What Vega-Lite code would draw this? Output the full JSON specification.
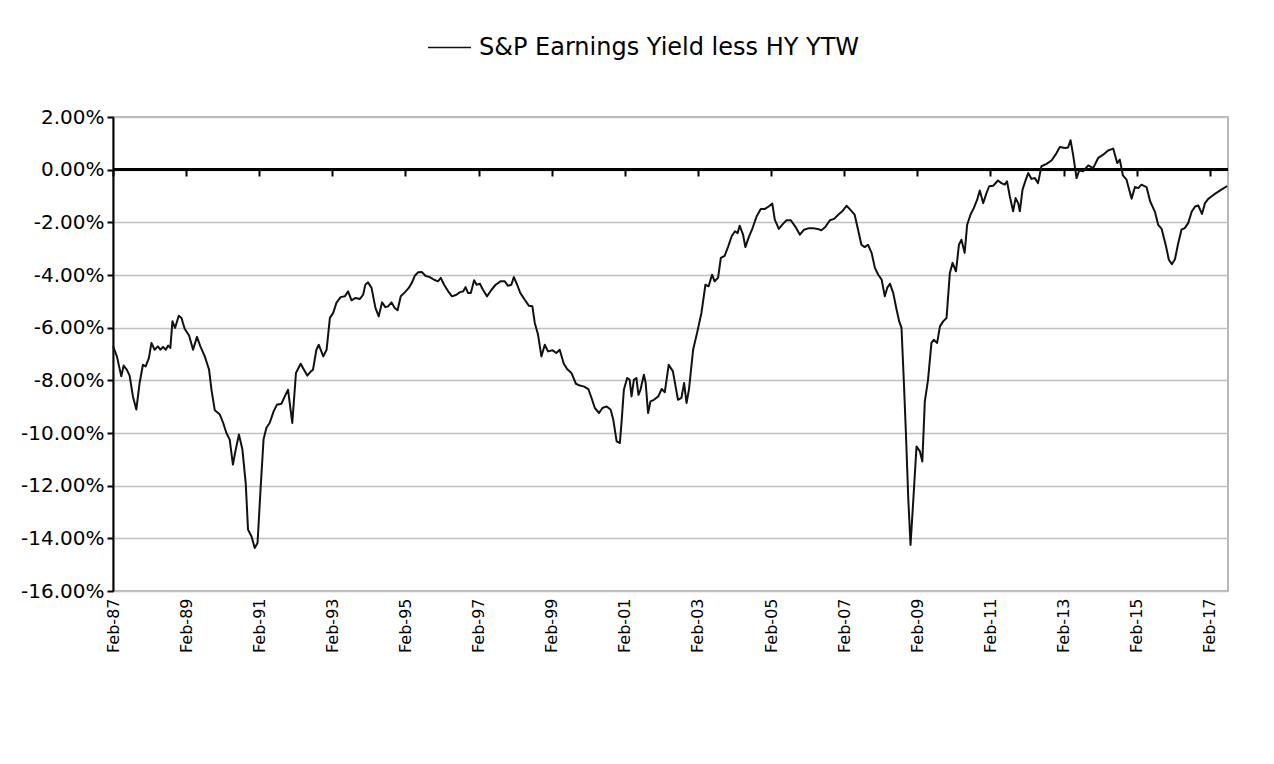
{
  "$schema": "https://vega.github.io/schema/vega-lite/v6.json",
  "width": 1115,
  "height": 474,
  "autosize": {"type": "none"},
  "padding": {"left": 113, "top": 117, "right": 46, "bottom": 173},
  "background": "white",
  "config": {
    "view": {"stroke": "#a0a0a0", "strokeWidth": 1.5},
    "font": "DejaVu Sans",
    "locale": {"number": {"decimal": ".", "thousands": ",", "grouping": [3], "currency": ["$", ""], "minus": "-"}}
  },
  "data": {"values": [
    {"date": "1987-02-01", "v": -0.0670},
    {"date": "1987-03-12", "v": -0.0709},
    {"date": "1987-04-25", "v": -0.0785},
    {"date": "1987-05-18", "v": -0.0744},
    {"date": "1987-06-20", "v": -0.0760},
    {"date": "1987-07-17", "v": -0.0782},
    {"date": "1987-08-19", "v": -0.0861},
    {"date": "1987-09-22", "v": -0.0911},
    {"date": "1987-10-25", "v": -0.0810},
    {"date": "1987-11-27", "v": -0.0741},
    {"date": "1987-12-24", "v": -0.0747},
    {"date": "1988-01-26", "v": -0.0715},
    {"date": "1988-02-20", "v": -0.0658},
    {"date": "1988-03-23", "v": -0.0684},
    {"date": "1988-04-25", "v": -0.0671},
    {"date": "1988-05-19", "v": -0.0684},
    {"date": "1988-06-15", "v": -0.0673},
    {"date": "1988-07-12", "v": -0.0684},
    {"date": "1988-08-05", "v": -0.0668},
    {"date": "1988-08-27", "v": -0.0677},
    {"date": "1988-09-17", "v": -0.0576},
    {"date": "1988-10-13", "v": -0.0601},
    {"date": "1988-11-19", "v": -0.0555},
    {"date": "1988-12-16", "v": -0.0563},
    {"date": "1989-01-18", "v": -0.0605},
    {"date": "1989-03-02", "v": -0.0630},
    {"date": "1989-04-11", "v": -0.0684},
    {"date": "1989-05-20", "v": -0.0635},
    {"date": "1989-06-23", "v": -0.0671},
    {"date": "1989-08-06", "v": -0.0709},
    {"date": "1989-09-18", "v": -0.0760},
    {"date": "1989-10-12", "v": -0.0836},
    {"date": "1989-11-14", "v": -0.0914},
    {"date": "1990-01-04", "v": -0.0930},
    {"date": "1990-02-06", "v": -0.0962},
    {"date": "1990-03-10", "v": -0.1000},
    {"date": "1990-04-12", "v": -0.1025},
    {"date": "1990-05-14", "v": -0.1120},
    {"date": "1990-06-11", "v": -0.1063},
    {"date": "1990-07-13", "v": -0.1006},
    {"date": "1990-08-17", "v": -0.1063},
    {"date": "1990-09-19", "v": -0.1190},
    {"date": "1990-10-12", "v": -0.1367},
    {"date": "1990-11-16", "v": -0.1393},
    {"date": "1990-12-18", "v": -0.1437},
    {"date": "1991-01-15", "v": -0.1418},
    {"date": "1991-02-14", "v": -0.1215},
    {"date": "1991-03-16", "v": -0.1025},
    {"date": "1991-04-13", "v": -0.0981},
    {"date": "1991-05-16", "v": -0.0962},
    {"date": "1991-06-25", "v": -0.0918},
    {"date": "1991-07-27", "v": -0.0893},
    {"date": "1991-09-11", "v": -0.0889},
    {"date": "1991-10-14", "v": -0.0861},
    {"date": "1991-11-16", "v": -0.0836},
    {"date": "1991-12-28", "v": -0.0962},
    {"date": "1992-02-03", "v": -0.0772},
    {"date": "1992-03-21", "v": -0.0737},
    {"date": "1992-04-23", "v": -0.0760},
    {"date": "1992-05-26", "v": -0.0782},
    {"date": "1992-07-01", "v": -0.0766},
    {"date": "1992-07-22", "v": -0.0760},
    {"date": "1992-08-25", "v": -0.0684},
    {"date": "1992-09-18", "v": -0.0665},
    {"date": "1992-11-02", "v": -0.0709},
    {"date": "1992-12-05", "v": -0.0684},
    {"date": "1993-01-07", "v": -0.0563},
    {"date": "1993-02-09", "v": -0.0544},
    {"date": "1993-03-13", "v": -0.0506},
    {"date": "1993-04-24", "v": -0.0484},
    {"date": "1993-06-05", "v": -0.0481},
    {"date": "1993-07-08", "v": -0.0462},
    {"date": "1993-08-11", "v": -0.0496},
    {"date": "1993-09-20", "v": -0.0487},
    {"date": "1993-11-03", "v": -0.0491},
    {"date": "1993-12-05", "v": -0.0475},
    {"date": "1993-12-27", "v": -0.0437},
    {"date": "1994-01-23", "v": -0.0428},
    {"date": "1994-02-27", "v": -0.0449},
    {"date": "1994-04-07", "v": -0.0525},
    {"date": "1994-05-10", "v": -0.0557},
    {"date": "1994-06-12", "v": -0.0504},
    {"date": "1994-07-15", "v": -0.0522},
    {"date": "1994-08-11", "v": -0.0519},
    {"date": "1994-09-15", "v": -0.0504},
    {"date": "1994-10-17", "v": -0.0525},
    {"date": "1994-11-14", "v": -0.0534},
    {"date": "1994-12-16", "v": -0.0481},
    {"date": "1995-01-25", "v": -0.0466},
    {"date": "1995-03-06", "v": -0.0449},
    {"date": "1995-04-08", "v": -0.0428},
    {"date": "1995-05-05", "v": -0.0403},
    {"date": "1995-06-07", "v": -0.0390},
    {"date": "1995-07-16", "v": -0.0389},
    {"date": "1995-08-19", "v": -0.0403},
    {"date": "1995-10-02", "v": -0.0408},
    {"date": "1995-11-14", "v": -0.0418},
    {"date": "1995-12-23", "v": -0.0424},
    {"date": "1996-01-20", "v": -0.0411},
    {"date": "1996-02-22", "v": -0.0437},
    {"date": "1996-04-03", "v": -0.0462},
    {"date": "1996-05-11", "v": -0.0481},
    {"date": "1996-06-24", "v": -0.0475},
    {"date": "1996-07-26", "v": -0.0466},
    {"date": "1996-09-01", "v": -0.0462},
    {"date": "1996-09-23", "v": -0.0446},
    {"date": "1996-10-18", "v": -0.0468},
    {"date": "1996-11-15", "v": -0.0468},
    {"date": "1996-12-18", "v": -0.0420},
    {"date": "1997-01-12", "v": -0.0437},
    {"date": "1997-02-14", "v": -0.0433},
    {"date": "1997-03-16", "v": -0.0456},
    {"date": "1997-04-25", "v": -0.0481},
    {"date": "1997-06-10", "v": -0.0456},
    {"date": "1997-07-21", "v": -0.0437},
    {"date": "1997-09-08", "v": -0.0424},
    {"date": "1997-10-20", "v": -0.0424},
    {"date": "1997-11-22", "v": -0.0441},
    {"date": "1997-12-25", "v": -0.0437},
    {"date": "1998-01-19", "v": -0.0408},
    {"date": "1998-02-21", "v": -0.0437},
    {"date": "1998-03-24", "v": -0.0468},
    {"date": "1998-05-08", "v": -0.0494},
    {"date": "1998-06-19", "v": -0.0517},
    {"date": "1998-07-23", "v": -0.0519},
    {"date": "1998-08-16", "v": -0.0582},
    {"date": "1998-09-18", "v": -0.0627},
    {"date": "1998-10-21", "v": -0.0709},
    {"date": "1998-11-24", "v": -0.0665},
    {"date": "1998-12-26", "v": -0.0690},
    {"date": "1999-02-10", "v": -0.0686},
    {"date": "1999-03-19", "v": -0.0696},
    {"date": "1999-04-22", "v": -0.0684},
    {"date": "1999-06-02", "v": -0.0737},
    {"date": "1999-07-05", "v": -0.0757},
    {"date": "1999-08-17", "v": -0.0772},
    {"date": "1999-10-01", "v": -0.0813},
    {"date": "1999-11-09", "v": -0.0820},
    {"date": "1999-12-18", "v": -0.0823},
    {"date": "2000-02-02", "v": -0.0833},
    {"date": "2000-03-05", "v": -0.0867},
    {"date": "2000-04-07", "v": -0.0905},
    {"date": "2000-05-19", "v": -0.0924},
    {"date": "2000-06-22", "v": -0.0905},
    {"date": "2000-08-03", "v": -0.0899},
    {"date": "2000-09-11", "v": -0.0911},
    {"date": "2000-10-08", "v": -0.0949},
    {"date": "2000-11-11", "v": -0.1032},
    {"date": "2000-12-13", "v": -0.1038},
    {"date": "2001-01-01", "v": -0.0949},
    {"date": "2001-01-22", "v": -0.0836},
    {"date": "2001-02-24", "v": -0.0791},
    {"date": "2001-03-21", "v": -0.0798},
    {"date": "2001-04-09", "v": -0.0861},
    {"date": "2001-05-02", "v": -0.0798},
    {"date": "2001-05-27", "v": -0.0791},
    {"date": "2001-06-17", "v": -0.0855},
    {"date": "2001-07-07", "v": -0.0836},
    {"date": "2001-08-10", "v": -0.0779},
    {"date": "2001-08-28", "v": -0.0810},
    {"date": "2001-09-21", "v": -0.0924},
    {"date": "2001-10-15", "v": -0.0880},
    {"date": "2001-11-18", "v": -0.0874},
    {"date": "2002-01-01", "v": -0.0861},
    {"date": "2002-02-04", "v": -0.0833},
    {"date": "2002-03-07", "v": -0.0845},
    {"date": "2002-04-15", "v": -0.0741},
    {"date": "2002-05-27", "v": -0.0766},
    {"date": "2002-07-17", "v": -0.0874},
    {"date": "2002-08-20", "v": -0.0867},
    {"date": "2002-09-16", "v": -0.0810},
    {"date": "2002-10-10", "v": -0.0886},
    {"date": "2002-11-03", "v": -0.0836},
    {"date": "2002-12-15", "v": -0.0684},
    {"date": "2003-01-27", "v": -0.0614},
    {"date": "2003-03-08", "v": -0.0544},
    {"date": "2003-04-17", "v": -0.0437},
    {"date": "2003-05-19", "v": -0.0443},
    {"date": "2003-06-22", "v": -0.0399},
    {"date": "2003-07-18", "v": -0.0424},
    {"date": "2003-08-21", "v": -0.0411},
    {"date": "2003-09-18", "v": -0.0335},
    {"date": "2003-10-26", "v": -0.0327},
    {"date": "2003-12-01", "v": -0.0291},
    {"date": "2004-01-04", "v": -0.0253},
    {"date": "2004-02-06", "v": -0.0234},
    {"date": "2004-03-03", "v": -0.0241},
    {"date": "2004-03-24", "v": -0.0213},
    {"date": "2004-04-27", "v": -0.0247},
    {"date": "2004-05-20", "v": -0.0294},
    {"date": "2004-06-23", "v": -0.0256},
    {"date": "2004-07-25", "v": -0.0228},
    {"date": "2004-09-10", "v": -0.0177},
    {"date": "2004-10-21", "v": -0.0149},
    {"date": "2004-12-02", "v": -0.0149},
    {"date": "2005-01-11", "v": -0.0139},
    {"date": "2005-02-13", "v": -0.0129},
    {"date": "2005-03-10", "v": -0.0190},
    {"date": "2005-04-19", "v": -0.0225},
    {"date": "2005-06-02", "v": -0.0205},
    {"date": "2005-07-06", "v": -0.0192},
    {"date": "2005-08-17", "v": -0.0192},
    {"date": "2005-10-04", "v": -0.0218},
    {"date": "2005-11-16", "v": -0.0247},
    {"date": "2005-12-27", "v": -0.0228},
    {"date": "2006-02-15", "v": -0.0222},
    {"date": "2006-03-26", "v": -0.0222},
    {"date": "2006-05-10", "v": -0.0225},
    {"date": "2006-06-19", "v": -0.0230},
    {"date": "2006-07-28", "v": -0.0218},
    {"date": "2006-09-11", "v": -0.0192},
    {"date": "2006-10-23", "v": -0.0187},
    {"date": "2006-12-04", "v": -0.0171},
    {"date": "2007-01-13", "v": -0.0158},
    {"date": "2007-02-25", "v": -0.0137},
    {"date": "2007-03-27", "v": -0.0149},
    {"date": "2007-05-17", "v": -0.0171},
    {"date": "2007-06-20", "v": -0.0228},
    {"date": "2007-07-23", "v": -0.0285},
    {"date": "2007-08-25", "v": -0.0294},
    {"date": "2007-09-27", "v": -0.0285},
    {"date": "2007-11-03", "v": -0.0317},
    {"date": "2007-12-05", "v": -0.0373},
    {"date": "2008-01-08", "v": -0.0399},
    {"date": "2008-02-11", "v": -0.0418},
    {"date": "2008-03-13", "v": -0.0481},
    {"date": "2008-04-06", "v": -0.0449},
    {"date": "2008-05-03", "v": -0.0433},
    {"date": "2008-06-05", "v": -0.0468},
    {"date": "2008-07-09", "v": -0.0532},
    {"date": "2008-08-04", "v": -0.0576},
    {"date": "2008-08-27", "v": -0.0601},
    {"date": "2008-09-20", "v": -0.0810},
    {"date": "2008-10-10", "v": -0.1000},
    {"date": "2008-11-03", "v": -0.1253},
    {"date": "2008-11-25", "v": -0.1425},
    {"date": "2008-12-21", "v": -0.1266},
    {"date": "2009-01-24", "v": -0.1051},
    {"date": "2009-02-27", "v": -0.1070},
    {"date": "2009-03-23", "v": -0.1108},
    {"date": "2009-04-17", "v": -0.0880},
    {"date": "2009-05-19", "v": -0.0798},
    {"date": "2009-06-22", "v": -0.0658},
    {"date": "2009-07-15", "v": -0.0646},
    {"date": "2009-08-18", "v": -0.0658},
    {"date": "2009-09-15", "v": -0.0595},
    {"date": "2009-10-17", "v": -0.0576},
    {"date": "2009-11-20", "v": -0.0563},
    {"date": "2009-12-23", "v": -0.0392},
    {"date": "2010-01-19", "v": -0.0354},
    {"date": "2010-02-22", "v": -0.0386},
    {"date": "2010-03-24", "v": -0.0285},
    {"date": "2010-04-18", "v": -0.0266},
    {"date": "2010-05-20", "v": -0.0316},
    {"date": "2010-06-14", "v": -0.0209},
    {"date": "2010-07-17", "v": -0.0171},
    {"date": "2010-08-19", "v": -0.0146},
    {"date": "2010-09-22", "v": -0.0114},
    {"date": "2010-10-18", "v": -0.0079},
    {"date": "2010-11-21", "v": -0.0127},
    {"date": "2010-12-24", "v": -0.0089},
    {"date": "2011-01-20", "v": -0.0063},
    {"date": "2011-03-01", "v": -0.0061},
    {"date": "2011-04-18", "v": -0.0041},
    {"date": "2011-05-22", "v": -0.0051},
    {"date": "2011-06-24", "v": -0.0057},
    {"date": "2011-07-17", "v": -0.0044},
    {"date": "2011-08-14", "v": -0.0101},
    {"date": "2011-09-16", "v": -0.0158},
    {"date": "2011-10-11", "v": -0.0108},
    {"date": "2011-11-06", "v": -0.0127},
    {"date": "2011-11-22", "v": -0.0158},
    {"date": "2011-12-19", "v": -0.0076},
    {"date": "2012-01-21", "v": -0.0038},
    {"date": "2012-02-14", "v": -0.0013},
    {"date": "2012-03-18", "v": -0.0035},
    {"date": "2012-04-20", "v": -0.0032},
    {"date": "2012-05-22", "v": -0.0051},
    {"date": "2012-06-25", "v": 0.0013},
    {"date": "2012-08-16", "v": 0.0022},
    {"date": "2012-10-06", "v": 0.0036},
    {"date": "2012-11-23", "v": 0.0063},
    {"date": "2012-12-26", "v": 0.0086},
    {"date": "2013-02-16", "v": 0.0082},
    {"date": "2013-03-18", "v": 0.0084},
    {"date": "2013-04-12", "v": 0.0112},
    {"date": "2013-05-08", "v": 0.0055},
    {"date": "2013-06-11", "v": -0.0032},
    {"date": "2013-07-07", "v": -0.0003},
    {"date": "2013-08-16", "v": -0.0006},
    {"date": "2013-10-06", "v": 0.0016},
    {"date": "2013-11-24", "v": 0.0006},
    {"date": "2014-01-14", "v": 0.0045},
    {"date": "2014-03-04", "v": 0.0057},
    {"date": "2014-04-22", "v": 0.0073},
    {"date": "2014-06-12", "v": 0.0080},
    {"date": "2014-07-22", "v": 0.0025},
    {"date": "2014-08-17", "v": 0.0038},
    {"date": "2014-09-17", "v": -0.0022},
    {"date": "2014-10-23", "v": -0.0038},
    {"date": "2014-12-13", "v": -0.0110},
    {"date": "2015-01-15", "v": -0.0066},
    {"date": "2015-02-18", "v": -0.0070},
    {"date": "2015-03-21", "v": -0.0057},
    {"date": "2015-05-11", "v": -0.0066},
    {"date": "2015-06-16", "v": -0.0120},
    {"date": "2015-08-03", "v": -0.0160},
    {"date": "2015-09-05", "v": -0.0210},
    {"date": "2015-10-09", "v": -0.0225},
    {"date": "2015-11-20", "v": -0.0288},
    {"date": "2015-12-20", "v": -0.0342},
    {"date": "2016-01-19", "v": -0.0359},
    {"date": "2016-02-19", "v": -0.0340},
    {"date": "2016-03-21", "v": -0.0282},
    {"date": "2016-04-24", "v": -0.0228},
    {"date": "2016-05-27", "v": -0.0222},
    {"date": "2016-07-01", "v": -0.0202},
    {"date": "2016-08-04", "v": -0.0160},
    {"date": "2016-09-07", "v": -0.0140},
    {"date": "2016-10-09", "v": -0.0136},
    {"date": "2016-11-15", "v": -0.0168},
    {"date": "2016-12-15", "v": -0.0127},
    {"date": "2017-01-17", "v": -0.0111},
    {"date": "2017-02-20", "v": -0.0101},
    {"date": "2017-04-04", "v": -0.0089},
    {"date": "2017-05-28", "v": -0.0076},
    {"date": "2017-07-25", "v": -0.0062}
  ]},
  "layer": [
    {
      "mark": {"type": "rule", "color": "black", "strokeWidth": 2},
      "encoding": {
        "x": {
          "datum": {"year": 1987, "month": 2, "date": 1},
          "type": "temporal",
          "axis": {
            "orient": "bottom",
            "values": [
              {"year": 1987, "month": 2, "date": 1}, {"year": 1989, "month": 2, "date": 1},
              {"year": 1991, "month": 2, "date": 1}, {"year": 1993, "month": 2, "date": 1},
              {"year": 1995, "month": 2, "date": 1}, {"year": 1997, "month": 2, "date": 1},
              {"year": 1999, "month": 2, "date": 1}, {"year": 2001, "month": 2, "date": 1},
              {"year": 2003, "month": 2, "date": 1}, {"year": 2005, "month": 2, "date": 1},
              {"year": 2007, "month": 2, "date": 1}, {"year": 2009, "month": 2, "date": 1},
              {"year": 2011, "month": 2, "date": 1}, {"year": 2013, "month": 2, "date": 1},
              {"year": 2015, "month": 2, "date": 1}, {"year": 2017, "month": 2, "date": 1}
            ],
            "format": "%b-%y",
            "labelAngle": -90,
            "labelAlign": "right",
            "labelBaseline": "middle",
            "labelPadding": 7,
            "labelFlush": false,
            "labelOverlap": false,
            "labelBound": false,
            "labelFont": "DejaVu Sans",
            "labelFontSize": 16,
            "labelColor": "black",
            "ticks": false,
            "tickSize": 0,
            "domain": false,
            "grid": false,
            "title": null
          }
        },
        "x2": {"datum": {"year": 2017, "month": 8, "date": 2}},
        "y": {"datum": 0, "type": "quantitative"}
      }
    },
    {
      "mark": {"type": "line", "color": "#111111", "strokeWidth": 2, "strokeJoin": "round"},
      "encoding": {
        "x": {
          "field": "date",
          "type": "temporal",
          "scale": {"domain": [{"year": 1987, "month": 2, "date": 1}, {"year": 2017, "month": 8, "date": 2}]},
          "axis": {
            "orient": "bottom",
            "offset": -421,
            "values": [
              {"year": 1987, "month": 2, "date": 1}, {"year": 1989, "month": 2, "date": 1},
              {"year": 1991, "month": 2, "date": 1}, {"year": 1993, "month": 2, "date": 1},
              {"year": 1995, "month": 2, "date": 1}, {"year": 1997, "month": 2, "date": 1},
              {"year": 1999, "month": 2, "date": 1}, {"year": 2001, "month": 2, "date": 1},
              {"year": 2003, "month": 2, "date": 1}, {"year": 2005, "month": 2, "date": 1},
              {"year": 2007, "month": 2, "date": 1}, {"year": 2009, "month": 2, "date": 1},
              {"year": 2011, "month": 2, "date": 1}, {"year": 2013, "month": 2, "date": 1},
              {"year": 2015, "month": 2, "date": 1}, {"year": 2017, "month": 2, "date": 1}
            ],
            "labels": false,
            "ticks": true,
            "tickSize": 6,
            "tickWidth": 2,
            "tickColor": "black",
            "domain": false,
            "grid": false,
            "title": null
          }
        },
        "y": {
          "field": "v",
          "type": "quantitative",
          "scale": {"domain": [-0.16, 0.02], "nice": false, "zero": false},
          "axis": {
            "values": [-0.16, -0.14, -0.12, -0.1, -0.08, -0.06, -0.04, -0.02, 0, 0.02],
            "format": ".2%",
            "title": null,
            "grid": true,
            "gridColor": "#c0c0c0",
            "gridWidth": 1.5,
            "domainColor": "black",
            "domainWidth": 2,
            "tickColor": "black",
            "tickWidth": 2,
            "tickSize": 6,
            "labelPadding": 3,
            "labelFont": "DejaVu Sans",
            "labelFontSize": 20,
            "labelColor": "black"
          }
        },
        "color": {
          "datum": "S&P Earnings Yield less HY YTW",
          "type": "nominal",
          "scale": {"range": ["#111111"]},
          "legend": {
            "orient": "none",
            "legendX": 314,
            "legendY": -92,
            "title": null,
            "symbolType": "stroke",
            "symbolSize": 1849,
            "symbolStrokeWidth": 1.6,
            "labelFont": "DejaVu Sans",
            "labelFontSize": 24,
            "labelColor": "black",
            "labelLimit": 0,
            "labelOffset": 7,
            "padding": 0
          }
        }
      }
    }
  ],
  "resolve": {"axis": {"x": "independent"}}
}
